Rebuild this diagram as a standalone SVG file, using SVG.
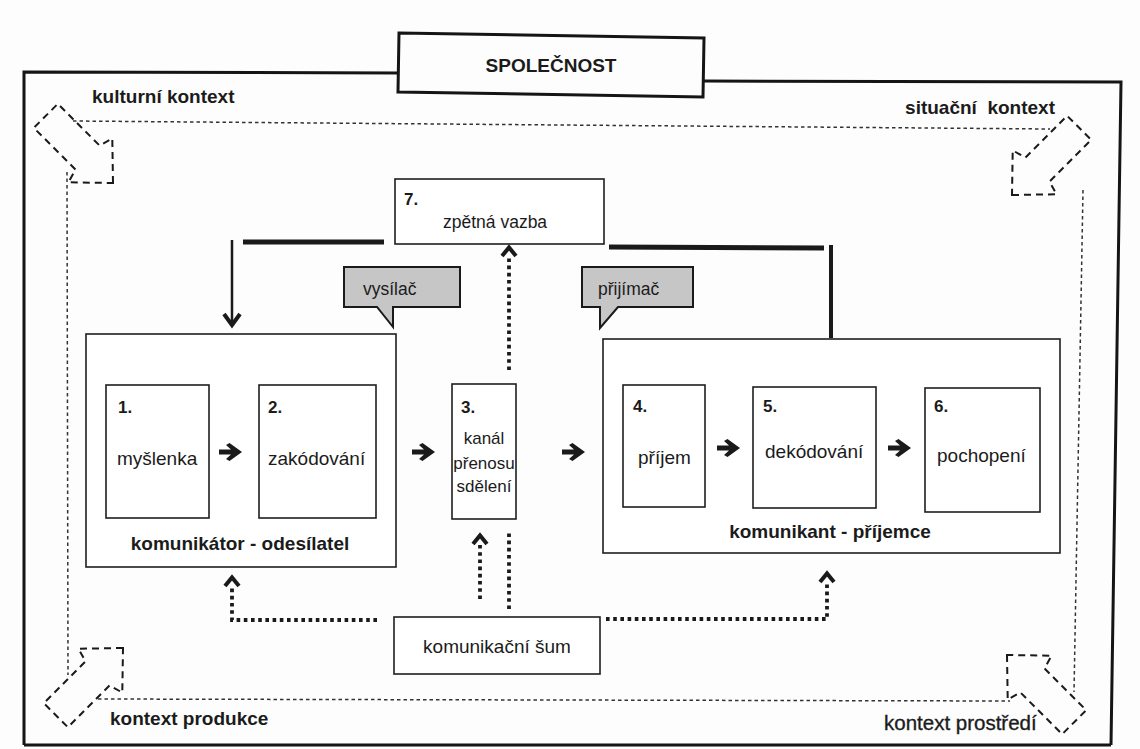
<svg xmlns="http://www.w3.org/2000/svg" xmlns:xlink="http://www.w3.org/1999/xlink" width="1140" height="749" viewBox="0 0 1140 749">
<style>
text{font-family:"Liberation Sans",Arial,sans-serif;fill:#1b1b1b}
.b{font-weight:bold}
.t19{font-size:19px}
.t17{font-size:17.5px}
.num{font-size:17px;font-weight:bold}
.ctx{font-size:19px;font-weight:bold}
.box{fill:#fff;stroke:#1e1e1e;stroke-width:1.6}
.frame{fill:none;stroke:#151515;stroke-width:3}
.ctxline{fill:none;stroke:#333;stroke-width:1.5;stroke-dasharray:3.5 3}
.hollow{fill:none;stroke:#1a1a1a;stroke-width:2;stroke-dasharray:7 5}
.dot{fill:none;stroke:#1a1a1a;stroke-width:3.8;stroke-dasharray:3.6 3.6}
.chev{fill:none;stroke:#1a1a1a;stroke-width:4}
.fb{fill:none;stroke:#1a1a1a;stroke-width:5}
.bubble{fill:#c6c6c6;stroke:#1a1a1a;stroke-width:2}
</style>
<defs>
<!-- hollow block arrow, tip at origin, pointing along +x -->
<path id="bigArrow" d="M0,0 L-32,-31 L-36,-17 L-95,-17 L-95,17 L-36,17 L-32,31 Z"/>
<!-- bold step arrow between the stages -->
<path id="step" d="M0,-2.4 H12 L7,-7 L10.5,-9 L23,0 L10.5,9 L7,7 L12,2.4 H0 Z" fill="#1a1a1a"/>
<!-- chevron head for dotted influence lines -->
<path id="up" d="M-7,10 L0,1.5 L7,10"/>
</defs>

<rect width="1140" height="749" fill="#fdfdfd"/>

<!-- society frame -->
<g id="society">
  <path class="frame" d="M24,745 L24,72 L399,73"/>
  <path class="frame" d="M704,81 L1121,82 L1111,745"/>
  <path class="frame" d="M24,745 L1111,745"/>
  <polygon class="frame" fill="#fff" points="399,33 704,38 703,97 398,92"/>
  <text class="b t19" x="551" y="72" text-anchor="middle">SPOLEČNOST</text>
</g>

<!-- context ring -->
<g id="contexts">
  <path class="ctxline" d="M73,121 L1050,129"/>
  <path class="ctxline" d="M67,172 L68,675"/>
  <path class="ctxline" d="M98,699 L1010,701"/>
  <path class="ctxline" d="M1083,190 L1074,692"/>
  <use href="#bigArrow" class="hollow" transform="translate(113,183) rotate(45)"/>
  <use href="#bigArrow" class="hollow" transform="translate(1012,195) rotate(135)"/>
  <use href="#bigArrow" class="hollow" transform="translate(123,648) rotate(-45)"/>
  <use href="#bigArrow" class="hollow" transform="translate(1007,655) rotate(-135)"/>
  <text class="ctx" x="92" y="103">kulturní kontext</text>
  <text class="ctx" x="1055" y="114" text-anchor="end">situační&#160; kontext</text>
  <text class="ctx" x="110" y="725">kontext produkce</text>
  <text x="884" y="730" font-size="20.5" stroke="#1b1b1b" stroke-width="0.35">kontext prostředí</text>
</g>

<g id="feedback">
  <rect class="box" x="395" y="179" width="209" height="65"/>
  <text class="num" x="404" y="205">7.</text>
  <text class="t17" x="443" y="228">zpětná vazba</text>
</g>

<g id="transmitter-tag">
  <path class="bubble" d="M344,267 H460 V307 H393 V327 L377,307 H344 Z"/>
  <text class="t17" x="363" y="295">vysílač</text>
</g>

<g id="receiver-tag">
  <path class="bubble" d="M582,267 H693 V307 H618 L600,328 V307 H582 Z"/>
  <text class="t17" x="598" y="295">přijímač</text>
</g>

<g id="sender">
  <rect class="box" x="86" y="334" width="310" height="233"/>
  <text class="b t19" x="240" y="550" text-anchor="middle">komunikátor - odesílatel</text>
</g>
<g id="thought">
  <rect class="box" x="106" y="385" width="103" height="133"/>
  <text class="num" x="118" y="413">1.</text>
  <text class="t19" x="117" y="465">myšlenka</text>
</g>
<g id="encoding">
  <rect class="box" x="259" y="385" width="117" height="133"/>
  <text class="num" x="268" y="413">2.</text>
  <text class="t19" x="268" y="465">zakódování</text>
</g>
<g id="channel">
  <rect class="box" x="452" y="384" width="64" height="135"/>
  <text class="num" x="461" y="413">3.</text>
  <text x="484" y="444" font-size="17" text-anchor="middle">kanál</text>
  <text x="484" y="469" font-size="17" text-anchor="middle">přenosu</text>
  <text x="484" y="492" font-size="17" text-anchor="middle">sdělení</text>
</g>
<g id="receiver">
  <rect class="box" x="603" y="339" width="457" height="214"/>
  <text class="b t19" x="830" y="538" text-anchor="middle">komunikant - příjemce</text>
</g>
<g id="reception">
  <rect class="box" x="623" y="385" width="82" height="122"/>
  <text class="num" x="633" y="412">4.</text>
  <text class="t19" x="638" y="464">příjem</text>
</g>
<g id="decoding">
  <rect class="box" x="753" y="387" width="123" height="121"/>
  <text class="num" x="763" y="412">5.</text>
  <text class="t19" x="765" y="458">dekódování</text>
</g>
<g id="understanding">
  <rect class="box" x="925" y="388" width="115" height="124"/>
  <text class="num" x="934" y="412">6.</text>
  <text class="t19" x="937" y="462">pochopení</text>
</g>
<g id="noise">
  <rect class="box" x="394" y="617" width="206" height="57"/>
  <text class="t19" x="497" y="653" text-anchor="middle">komunikační šum</text>
</g>

<!-- connectors, drawn last so the white box fills never hide them -->
<g id="connectors">
  <use href="#step" x="219" y="452"/>
  <use href="#step" x="412" y="452"/>
  <use href="#step" x="562" y="452"/>
  <use href="#step" x="717" y="448"/>
  <use href="#step" x="888" y="448"/>

  <path class="dot" d="M509,370 V256"/>
  <use href="#up" class="chev" x="509" y="246"/>
  <path class="dot" d="M480,599 V544"/>
  <use href="#up" class="chev" x="480" y="534"/>
  <path class="dot" d="M509,609 V531"/>
  <path class="dot" d="M377,620 H232 V586"/>
  <use href="#up" class="chev" x="232" y="576"/>
  <path class="dot" d="M606,619 H827 V582"/>
  <use href="#up" class="chev" x="827" y="572"/>

  <path class="fb" d="M243,242 H384"/>
  <path class="fb" d="M609,247 L824,248"/>
  <path fill="none" stroke="#1a1a1a" stroke-width="4" d="M831,245 V338"/>
  <path fill="none" stroke="#1a1a1a" stroke-width="2.5" d="M232,240 V322"/>
  <path class="chev" d="M224,314 L232,325 L240,314"/>
</g>
</svg>
